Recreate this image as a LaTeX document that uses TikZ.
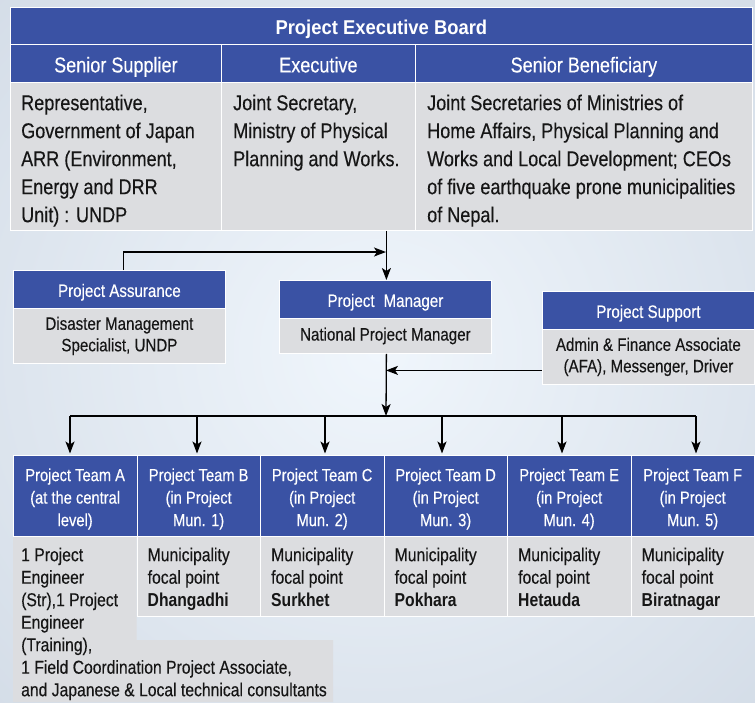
\documentclass[tikz,border=0pt]{standalone}
\usepackage{fontspec}
\setmainfont{Liberation Sans}[FakeStretch=0.84, UprightFeatures={FakeBold=0.3}]
\newfontfamily\titlefont{Liberation Sans}[FakeStretch=0.92]
\usetikzlibrary{arrows.meta}
\definecolor{pblue}{RGB}{58,82,164}
\definecolor{pgray}{RGB}{220,221,224}
\definecolor{bgin}{RGB}{240,246,252}
\definecolor{bgout}{RGB}{210,219,230}
\definecolor{ink}{RGB}{22,22,22}
\newcommand\hstrut{\rule{0pt}{19pt}}
\begin{document}
\begin{tikzpicture}[x=1pt,y=-1pt,
  cellH/.style={rectangle, fill=pblue, draw=white, line width=0.8pt, inner sep=0pt, anchor=north west, text=white, align=center},
  cellB/.style={rectangle, fill=pgray, draw=white, line width=0.8pt, inner sep=0pt, anchor=north west, text=ink, align=center},
  txt/.style={inner sep=0pt, anchor=north west, align=left, text=ink},
  bigf/.style={font=\fontsize{21.5}{28}\selectfont},
  midf/.style={font=\fontsize{18}{21.5}\selectfont},
  teamf/.style={font=\fontsize{17.5}{22.5}\selectfont},
  teambf/.style={font=\fontsize{18.7}{22.5}\selectfont},
  arr/.style={line width=1.3pt, draw=black, -{Stealth[length=12pt,width=9pt,inset=3pt]}},
  conn/.style={line width=1.3pt, draw=black}
]
\useasboundingbox (0,0) rectangle (755,702);
\shade[inner color=bgin, outer color=bgout] (-200,-200) rectangle (955,902);

% ---------- Project Executive Board ----------
\node[cellH, minimum width=742pt, minimum height=37pt, text height=17pt, text depth=0pt, font=\titlefont\bfseries\fontsize{20}{24}\selectfont] (pebT) at (10,7) {Project Executive Board};
\node[cellH, bigf, minimum width=211pt, minimum height=38pt, text height=18pt, text depth=0pt] (pebH1) at (10,44) {Senior Supplier};
\node[cellH, bigf, minimum width=194pt, minimum height=38pt, text height=18pt, text depth=0pt] (pebH2) at (221,44) {Executive};
\node[cellH, bigf, minimum width=337pt, minimum height=38pt, text height=18pt, text depth=0pt] (pebH3) at (415,44) {Senior Beneficiary};
\node[cellB, minimum width=211pt, minimum height=148pt] (pebB1) at (10,82) {};
\node[cellB, minimum width=194pt, minimum height=148pt] (pebB2) at (221,82) {};
\node[cellB, minimum width=337pt, minimum height=148pt] (pebB3) at (415,82) {};
\node[txt, bigf] (pebT1) at (21,90.4) {\strut Representative,\\Government of Japan\\ARR (Environment,\\Energy and DRR\\Unit) : UNDP};
\node[txt, bigf] (pebT2) at (233,90.4) {\strut Joint Secretary,\\Ministry of Physical\\Planning and Works.};
\node[txt, bigf] (pebT3) at (427,90.4) {\strut Joint Secretaries of Ministries of\\Home Affairs, Physical Planning and\\Works and Local Development; CEOs\\of five earthquake prone municipalities\\of Nepal.};

% ---------- Middle boxes ----------
\node[cellH, midf, minimum width=212pt, minimum height=38pt, text height=15pt, text depth=0pt] (asrH) at (13,270) {Project Assurance};
\node[cellB, midf, minimum width=212pt, minimum height=55pt] (asrB) at (13,308) {Disaster Management\\Specialist, UNDP};
\node[cellH, midf, minimum width=212pt, minimum height=38pt, text height=15pt, text depth=0pt] (mgrH) at (279,280) {Project\enspace Manager};
\node[cellB, midf, minimum width=212pt, minimum height=35pt] (mgrB) at (279,318) {National Project Manager};
\node[cellH, midf, minimum width=212pt, minimum height=38pt, text height=15pt, text depth=0pt] (supH) at (542,291) {Project Support};
\node[cellB, midf, minimum width=212pt, minimum height=55pt] (supB) at (542,329) {Admin \& Finance Associate\\(AFA), Messenger, Driver};

% ---------- Teams ----------
\fill[pgray] (13,536) -- (136.5,536) -- (136.5,640) -- (333,640) -- (333,702) -- (13,702) -- cycle;
\node[cellH, teamf, minimum width=123.5pt, minimum height=81pt] (tA) at (13,455) {\hstrut Project Team A\\(at the central\\level)};
\node[cellH, teamf, minimum width=123.5pt, minimum height=81pt] (tB) at (136.5,455) {\hstrut Project Team B\\(in Project\\Mun. 1)};
\node[cellH, teamf, minimum width=123.5pt, minimum height=81pt] (tC) at (260,455) {\hstrut Project Team C\\(in Project\\Mun. 2)};
\node[cellH, teamf, minimum width=123.5pt, minimum height=81pt] (tD) at (383.5,455) {\hstrut Project Team D\\(in Project\\Mun. 3)};
\node[cellH, teamf, minimum width=123.5pt, minimum height=81pt] (tE) at (507,455) {\hstrut Project Team E\\(in Project\\Mun. 4)};
\node[cellH, teamf, minimum width=123.5pt, minimum height=81pt] (tF) at (630.5,455) {\hstrut Project Team F\\(in Project\\Mun. 5)};
\node[cellB, minimum width=123.5pt, minimum height=80pt] (bB) at (136.5,536) {};
\node[cellB, minimum width=123.5pt, minimum height=80pt] (bC) at (260,536) {};
\node[cellB, minimum width=123.5pt, minimum height=80pt] (bD) at (383.5,536) {};
\node[cellB, minimum width=123.5pt, minimum height=80pt] (bE) at (507,536) {};
\node[cellB, minimum width=123.5pt, minimum height=80pt] (bF) at (630.5,536) {};
\node[txt, teambf] (xA) at (21,545.25) {\strut 1 Project\\Engineer\\(Str),1 Project\\Engineer\\(Training),\\1 Field Coordination Project Associate,\\and Japanese \& Local technical consultants};
\node[txt, teambf] (xB) at (147.5,545.25) {\strut Municipality\\focal point\\\textbf{Dhangadhi}};
\node[txt, teambf] (xC) at (271,545.25) {\strut Municipality\\focal point\\\textbf{Surkhet}};
\node[txt, teambf] (xD) at (394.5,545.25) {\strut Municipality\\focal point\\\textbf{Pokhara}};
\node[txt, teambf] (xE) at (518,545.25) {\strut Municipality\\focal point\\\textbf{Hetauda}};
\node[txt, teambf] (xF) at (641.5,545.25) {\strut Municipality\\focal point\\\textbf{Biratnagar}};

% ---------- Connectors ----------
\coordinate (asrJ) at (386,252);
\coordinate (bus) at (386,416);
\coordinate (dA) at (70,416);
\coordinate (dB) at (197,416);
\coordinate (dC) at (325,416);
\coordinate (dD) at (442,416);
\coordinate (dE) at (562,416);
\coordinate (dF) at (696,416);
\draw[arr] ([xshift=1pt]mgrH.north |- pebB2.south) -- ([xshift=1pt]mgrH.north);
\draw[arr] ([xshift=4pt]asrH.north) |- (asrJ);
\draw[arr] ([yshift=-13.5pt]supB.west) -- ([yshift=-13.5pt]supB.west -| bus);
\draw[arr] ([xshift=1pt]mgrB.south) -- (bus);
\draw[conn] (dA) -- (dF);
\draw[arr, shorten >=1.5pt] (dA) -- (dA |- tA.north);
\draw[arr, shorten >=1.5pt] (dB) -- (dB |- tB.north);
\draw[arr, shorten >=1.5pt] (dC) -- (dC |- tC.north);
\draw[arr, shorten >=1.5pt] (dD) -- (dD |- tD.north);
\draw[arr, shorten >=1.5pt] (dE) -- (dE |- tE.north);
\draw[arr, shorten >=1.5pt] (dF) -- (dF |- tF.north);
\end{tikzpicture}
\end{document}
